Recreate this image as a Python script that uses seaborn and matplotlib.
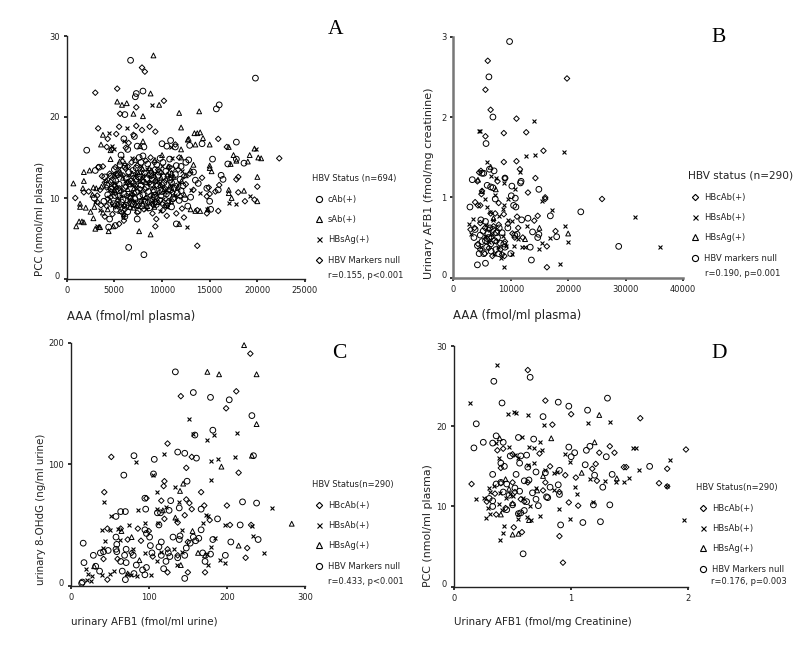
import matplotlib
matplotlib.use("Agg")
import matplotlib.pyplot as plt
from matplotlib.lines import Line2D
from matplotlib.transforms import ScaledTranslation
import pandas as pd
import seaborn as sns

# ---------- Panel A: AAA vs PCC ----------
a_cab = [(6700,27),(19800,24.8),(8000,23.2),(7300,22.9),(7200,22.5),(16000,21.5),(15700,21),(6100,20.3),(2100,15.9),(6500,3.9),(8100,3),(17800,16.9),(14200,16.7),(10900,17.1),(15300,14.8),(18600,14.3),(16900,14.2),(12900,16.5),(16200,12.8),(16400,12.3),(13000,10.1),(15000,9.6),(15100,8.6),(7100,17.6),(6000,17.3),(7400,16.4),(8100,16.3),(10000,16.7),(10500,16.4),(11400,16.3),(6400,16),(8000,15.2),(7600,15),(5700,15.3),(9800,14.9),(10800,14.8),(12800,14.7),(17800,14.8),(11500,14),(13300,13.2),(3400,13.8),(4000,12.6),(4800,12.2),(5500,11.7),(6100,11.3),(6800,12.1),(7300,10.7),(7800,11.6),(8400,12.4),(9100,11),(9600,12.8),(10200,11.9),(10700,10.3),(11300,11.2),(11900,12.3),(12400,9.9),(13800,11.8),(14700,11.2),(15900,11),(4300,10.4),(4900,9.3),(5200,8.6),(5900,9.8),(6400,8.3),(7000,9.2),(7500,8.4),(8200,9.6),(8700,8.8),(9400,9.2),(9900,10.3),(10600,9.4),(11000,8.9),(11800,9.7),(12700,9),(4500,7.4),(6100,7.7),(7400,7.4),(11500,6.8),(4400,6.4),(5100,6.6),(2900,10),(3000,13.4),(5000,13.5),(5600,14.1),(6500,13.2),(7300,13.7),(8500,14.2),(9300,13.5),(10400,13.3),(11000,13.6),(12000,13.9),(12500,14.4),(6000,10.5),(7000,11.8),(8000,10.4),(9000,12.2),(10000,10.8),(11000,11.9),(12000,10.9),(13500,12.2)]
a_cab_core = [(4200,11.6),(4650,12.7),(5050,10.3),(5400,12.9),(5750,9.5),(6250,12.4),(6600,10.1),(6950,13.4),(7150,9.9),(7550,12.6),(7900,9),(8150,13.1),(8600,10.8),(8850,11.7),(9200,10.1),(9550,11.5),(9750,9.7),(10150,12.6),(10450,10.5),(10850,12.2),(11150,9.9),(11600,10.6),(6250,9.1),(7650,10.2),(5450,10.9),(4700,11.1),(8350,11.3),(9700,13.2),(10900,11),(6800,9.3),(7250,12.3),(8800,13),(5150,12.1),(11400,12.9),(12200,11.5),(3900,9.6),(6100,13.9),(9450,14.1),(10100,14.4),(7800,14.4)]
a_sab = [(9100,27.6),(8800,22.9),(5300,21.9),(5800,21.5),(6300,21.7),(9700,21.5),(7000,20.4),(8000,20.1),(11800,20.5),(13900,20.7),(12000,18.7),(3800,17.8),(13400,18),(13700,18),(14000,18.1),(12800,17.3),(12700,17.2),(14300,17.4),(15000,16.6),(17000,16.3),(19700,16.1),(13500,16.6),(3600,16.6),(12000,16),(7700,16.4),(8000,17),(4600,15.9),(17500,15.3),(19200,15.3),(20100,15),(20400,14.9),(17800,14.6),(19000,14.5),(17200,14.2),(13300,14.1),(15000,14),(15000,13.7),(15200,13.3),(1800,13.2),(2400,13.4),(1800,12.1),(20000,12.6),(700,11.8),(1700,11.2),(2800,11.3),(3100,11.2),(2700,10.4),(1000,6.5),(1300,7.1),(1600,7.1),(1800,7),(3000,6.2),(3400,6.4),(3500,6.4),(4400,5.9),(7600,5.9),(8800,5.5),(4900,6.5),(1400,9.3),(1400,8.9),(2000,8.8),(2500,8.3),(2800,7.5),(2900,8.9),(3800,8.2),(4300,8.6),(17000,11),(17000,10.6),(17300,10),(18600,10.9),(20000,9.6),(14800,8.6),(14000,8.4),(13500,8.4),(13000,8.6),(11800,6.8),(6000,8),(5600,8.4),(7000,8.8),(8000,9.3),(9200,8.9),(10300,9.1),(5000,11),(5900,12.5),(6900,13),(7700,12.1),(8900,13.4),(10000,15.3),(11000,13.1),(12000,15),(12500,12.8),(13000,13.4),(9900,12.5),(10800,11.4),(8300,10.1),(6500,9.4),(4600,14.8),(6100,14.3),(7200,14.7),(5000,12.9),(6400,11.1)]
a_sab_core = [(4150,12.2),(4550,9.7),(5250,11.4),(5650,13.1),(6050,9.2),(6350,12),(6750,10.6),(7050,11.2),(7450,13.2),(7850,9.8),(8250,12),(8650,13.7),(9050,10.4),(9350,12.4),(9650,9.5),(10250,11.1),(10550,12.9),(10950,9.6),(11250,12.6),(11650,11.3),(12050,12.1),(5350,9.3),(6650,8.9),(8450,9),(7350,9.1),(9850,11.6),(4850,10.7),(10650,13.9),(5550,14.5),(12350,10.4),(3650,11.4),(7950,13.6),(9250,14.7)]
a_hbsag = [(4400,18),(8900,21.5),(6300,18.7),(5000,16.1),(4800,16.4),(5800,15),(12600,6.4),(6000,17),(19900,16),(17000,9.4),(17800,9.2),(19200,10.2),(8000,12.5),(9100,9.8),(10900,16.3),(13000,11),(14000,10.6),(14700,8.6),(3000,9.5),(3500,8.5),(4400,11),(5300,10),(6400,12.8),(7100,9.6),(7800,14),(8500,11.8),(9200,13),(10100,9.9),(10700,12.8),(11400,10.4),(12100,13.3),(3200,6.6),(5500,13.6),(6800,15),(8300,8.7),(9800,8.4),(11000,15),(7300,11.3),(9400,10.6),(4700,9.1),(5900,7.8)]
a_hbsag_core = [(4950,11.9),(5650,10.2),(6150,12.1),(6850,11.6),(7650,10.9),(8050,12.9),(8750,9.4),(9550,12.1),(9950,13.9),(10350,10.7),(10950,11.6),(11750,11.8),(6550,9.9),(7250,13),(8450,13.6),(5150,8.9),(9050,11.2),(10550,8.9)]
a_null = [(3000,23),(5300,23.5),(7900,26.1),(8200,25.6),(7300,21.2),(10200,22),(5600,20.4),(3300,18.6),(5500,18.8),(7300,18.9),(7900,18.4),(8700,18.8),(9300,18.2),(7000,17.8),(4300,17.3),(5200,17.9),(6500,16.8),(15900,17.3),(16800,16.3),(11400,16.6),(4200,16.3),(4700,16),(6200,16.2),(3800,13.9),(3300,13.8),(11800,15),(14900,11.3),(17800,12.3),(18000,12.6),(18000,10.7),(20000,11.4),(22300,14.9),(19700,9.8),(18700,9.6),(15900,8.4),(14700,8.1),(13700,4.1),(9300,6.5),(9400,7.4),(10500,7.8),(900,10),(2300,10.8),(1800,10.7),(3200,9.5),(3600,9.1),(4200,9),(5000,9.1),(4000,7.7),(5500,6.8),(6000,7.2),(14200,12.5),(15600,10.8),(15000,10.5),(14700,10.2),(16000,11.6),(3200,10.3),(4200,11.3),(4600,12),(5000,11.5),(5300,12.8),(5700,10.8),(6200,13.6),(6700,10),(7000,12.5),(7500,9),(7800,13.2),(8200,11.1),(8500,9.5),(8900,12.7),(9200,14.4),(9500,10),(9900,13.1),(10300,11.2),(10700,9.6),(11000,12.4),(11300,10),(11700,13.5),(12100,8.7),(12500,11.7),(12900,13),(13300,11),(13700,8.5),(6000,9),(7400,8.2),(8800,10.3),(9000,8.1),(10100,8.5),(5400,9.7),(5100,13.8),(8300,14.6),(8800,15),(7100,10.6),(6500,12),(4800,8),(4500,13),(3700,12.7),(6800,14.4),(9400,11.6),(11500,8.1),(12300,7.6),(10800,13.8),(5800,8.2),(4600,10.1),(6200,11.4),(7600,12.4),(9100,9.1)]
a_null_core = [(4300,9.9),(4750,11.3),(5100,10.6),(5500,11.2),(5900,12.8),(6300,10.3),(6600,11.7),(7000,9.5),(7200,11.5),(7700,11.1),(8000,12),(8400,10),(8700,11.9),(9000,9.8),(9300,12.1),(9700,10.7),(10000,11.7),(10400,12.2),(10700,11),(11100,10.7),(11500,11.5),(11900,10.2),(5600,9.1),(6900,10.4),(8100,8.6),(8600,12.8),(9600,13.5),(10500,9),(5200,13),(6400,13.9),(7400,14),(7700,9.6),(9300,9.5),(10000,9.3),(12300,12.7),(4000,11.9),(3500,11),(6100,8.6)]

# ---------- Panel B: AAA vs urinary AFB1 ----------
b_null = [(9800,2.94),(6200,2.5),(6900,2.0),(5700,1.67),(14900,1.1),(10200,1.14),(3300,1.22),(5900,1.15),(6500,1.13),(6900,1.12),(6300,1.35),(5000,1.3),(5300,1.3),(7100,1.33),(11800,1.2),(11700,1.18),(10100,1.02),(10800,0.99),(9000,1.24),(7300,0.98),(2900,0.88),(22200,0.82),(16900,0.77),(13000,0.74),(28800,0.39),(18000,0.51),(14900,0.54),(14700,0.5),(13600,0.22),(13400,0.38),(4200,0.16),(5600,0.18),(13800,0.57),(10500,0.9),(10900,0.88),(11900,0.72),(5600,0.7),(3600,0.5),(4200,0.4),(4500,0.3),(5000,0.45),(5300,0.3),(5800,0.38),(6000,0.55),(6500,0.42),(6900,0.6),(7400,0.35),(7700,0.5),(8200,0.43),(8500,0.56),(9000,0.38),(9500,0.62),(10000,0.3),(10700,0.53),(4800,0.72),(3800,0.6),(11100,0.54),(4700,0.53),(6600,0.33),(7900,0.3),(5200,0.58),(6200,0.5),(7200,0.46),(8000,0.62),(8800,0.42),(6400,0.62),(7500,0.56),(5600,0.46)]
b_hbcab = [(6000,2.7),(19800,2.48),(5600,2.34),(6500,2.09),(11000,1.98),(8800,1.8),(12700,1.81),(5600,1.76),(15700,1.58),(8800,1.44),(11000,1.45),(11600,1.35),(14300,1.24),(9000,1.24),(7700,1.2),(4200,1.2),(4800,1.33),(4500,1.31),(4900,1.04),(5000,1.08),(13000,1.06),(16000,1),(16000,0.98),(25900,0.98),(7900,0.93),(3800,0.94),(4300,0.9),(4700,0.9),(8800,0.79),(11100,0.76),(14700,0.77),(6500,0.8),(7300,0.8),(14100,0.71),(17800,0.58),(16300,0.39),(16300,0.13),(8900,0.27),(3000,0.6),(3700,0.62),(4700,0.68),(5500,0.62),(6200,0.6),(7000,0.64),(7900,0.66),(9500,0.67),(10300,0.55),(10700,0.5),(11300,0.62),(12100,0.5),(4300,0.42),(4700,0.35),(5500,0.3),(6200,0.37),(6800,0.27),(7500,0.45),(8200,0.35),(9000,0.45),(6600,0.5),(7700,0.58),(5900,0.48),(8500,0.29)]
b_hbsab = [(4500,1.83),(4700,1.83),(14100,1.95),(19200,1.57),(12700,1.52),(14300,1.53),(5800,1.44),(11700,1.32),(6500,1.27),(7500,1.24),(8800,1.18),(10800,1.1),(7300,1.03),(5500,0.98),(9500,0.98),(15400,0.95),(8900,0.9),(8700,0.86),(5800,0.88),(17200,0.84),(31600,0.76),(36000,0.38),(19400,0.64),(20000,0.45),(16800,0.5),(15400,0.43),(14900,0.36),(12900,0.64),(18500,0.17),(8900,0.13),(2700,0.67),(3500,0.73),(3000,0.55),(6400,0.82),(7000,0.72),(8000,0.77),(10200,0.7),(9600,0.72),(4900,0.38),(5500,0.52),(6200,0.45),(7100,0.3),(7700,0.38),(8300,0.25),(8700,0.52),(9200,0.4),(10200,0.3),(10600,0.4),(11200,0.48),(12000,0.38),(12500,0.38),(6800,0.55),(5700,0.66)]
b_hbsag = [(6500,1.38),(7400,1.1),(5000,1.08),(20000,0.55),(15000,0.62),(12500,0.48),(7000,0.74),(4300,1.22)]

# ---------- Panel C: urinary AFB1 vs 8-OHdG ----------
c_null = [(134,176),(157,159),(179,155),(203,153),(232,140),(182,128),(159,124),(81,107),(107,104),(137,110),(146,109),(161,105),(234,107),(68,91),(106,92),(149,86),(220,69),(238,68),(128,70),(96,63),(64,61),(70,61),(58,57),(95,72),(111,60),(115,60),(126,62),(139,64),(167,63),(188,55),(182,38),(217,50),(167,46),(205,36),(240,38),(198,25),(146,6),(70,5),(14,2),(15,3),(16,35),(17,19),(29,25),(32,16),(37,12),(38,27),(42,28),(48,29),(58,30),(59,34),(59,28),(58,40),(64,20),(66,12),(69,25),(71,30),(71,19),(80,25),(81,10),(84,17),(92,13),(95,9),(97,15),(95,46),(97,43),(101,40),(102,33),(104,27),(113,32),(116,36),(116,25),(119,14),(122,20),(125,27),(127,24),(131,40),(137,23),(139,38),(140,41),(146,25),(148,31),(153,35),(157,40),(160,37),(164,39),(169,27),(172,20),(179,26),(113,50)]
c_hbcab = [(230,191),(212,160),(141,156),(199,146),(124,117),(52,106),(155,106),(148,97),(215,93),(120,86),(119,82),(43,77),(167,77),(148,71),(171,66),(200,66),(152,68),(120,55),(178,54),(204,50),(231,50),(226,31),(224,23),(172,11),(150,11),(124,11),(47,5),(42,22),(47,47),(64,47),(73,38),(86,47),(90,37),(97,72),(116,70),(137,52),(146,58),(155,63),(124,30),(137,25),(150,36),(100,45),(105,24),(78,27),(60,22)]
c_hbsab = [(151,137),(156,125),(184,124),(175,120),(213,126),(84,102),(120,108),(105,91),(180,103),(189,104),(210,106),(180,87),(133,81),(110,77),(42,69),(139,69),(258,64),(51,57),(86,62),(111,63),(173,58),(176,57),(170,52),(122,65),(95,52),(112,52),(75,50),(60,47),(40,46),(44,37),(50,46),(232,49),(198,50),(233,41),(248,27),(191,21),(198,19),(180,32),(185,39),(143,46),(132,30),(143,28),(136,17),(176,17),(174,26),(85,8),(103,9),(26,4),(20,14),(22,10),(27,8),(40,9),(50,10),(55,12),(72,10),(77,9),(41,31),(63,38),(80,30),(95,27),(110,20),(115,28),(135,54),(21,5)]
c_hbsag = [(222,198),(175,176),(190,174),(238,174),(238,133),(232,107),(193,98),(144,84),(140,78),(283,51),(134,56),(118,62),(156,45),(215,33),(163,27),(141,17),(88,21),(65,45),(78,40),(73,10),(30,16),(172,25)]

# ---------- Panel D: urinary AFB1 vs PCC ----------
d_null = [(0.34,25.6),(0.65,26.1),(0.41,22.9),(0.89,23),(0.98,22.5),(1.14,22),(1.31,23.5),(0.76,21.2),(0.19,20.3),(0.25,18),(0.17,17.3),(0.36,18.8),(0.33,17.9),(0.42,18),(0.55,18.6),(0.68,18.4),(0.98,17.4),(1.13,17),(1.16,17.5),(1.0,16.2),(1.03,16.7),(1.3,16.2),(1.67,15),(1.12,15.2),(1.35,14),(1.27,12.4),(1.2,13.9),(1.33,10.2),(1.19,10.2),(1.25,8.1),(1.1,8),(0.91,7.7),(0.59,4.1),(0.4,15.4),(0.43,15),(0.48,16.3),(0.57,16.3),(0.62,16.4),(0.56,15.4),(0.63,14.9),(0.9,14.5),(0.89,12.7),(0.9,11.5),(0.78,14.2),(0.7,14.3),(0.53,14),(0.33,14),(0.3,11),(0.33,10.7),(0.36,12.8),(0.4,13),(0.45,12.8),(0.42,11.8),(0.47,11.4),(0.52,12.3),(0.56,11.9),(0.6,13.2),(0.64,13.3),(0.67,11.7),(0.7,10.9),(0.72,10.1),(0.79,11.2),(0.8,11.1),(0.82,12.4),(0.5,10.2),(0.45,9.6),(0.55,9.1),(0.57,9.2),(0.6,9.5),(0.62,10.6),(0.33,10)]
d_hbcab = [(0.63,27),(0.78,23.2),(1.0,21.5),(1.59,21),(0.84,20.2),(1.98,17.1),(1.33,17.5),(1.37,16.7),(1.24,16.7),(0.37,17),(0.42,17.2),(0.5,16.5),(1.21,15.3),(1.18,14.7),(1.45,14.9),(1.47,14.9),(1.82,14.7),(0.95,13.9),(1.04,13.6),(1.22,13.2),(1.75,12.9),(1.82,12.5),(0.15,12.8),(0.28,10.6),(0.36,9),(0.4,12.9),(0.44,9.8),(0.52,11.8),(0.57,10.9),(0.6,10.6),(0.63,13),(0.76,12),(0.78,13),(0.82,15),(0.9,11.8),(0.98,10.5),(1.06,10.1),(0.51,7.4),(0.58,6.8),(0.9,6.3),(0.93,3),(0.5,13),(0.73,16.6),(0.4,14.8),(0.35,11.6)]
d_hbsab = [(0.37,27.6),(0.14,22.9),(0.46,21.5),(0.51,21.8),(0.53,21.7),(0.63,21.4),(0.77,20.1),(1.14,20.4),(1.33,20.5),(0.58,18.7),(0.73,18),(0.36,17.9),(0.47,17.4),(0.64,17.4),(0.68,17.3),(0.75,17),(0.95,16.6),(0.99,15.6),(1.53,17.3),(1.55,17.3),(1.84,15.8),(1.58,14.5),(1.49,13.5),(1.45,13.1),(1.38,13.1),(1.29,13.2),(1.16,13.4),(1.03,12.4),(1.05,11.6),(1.19,10.5),(0.9,9.7),(0.99,8.5),(1.96,8.3),(1.82,12.5),(0.27,8.6),(0.31,9),(0.43,7.6),(0.42,6.7),(0.39,5.8),(0.66,8.3),(0.62,8.7),(0.73,8.8),(0.55,8.5),(0.19,10.9),(0.26,11),(0.29,9.8),(0.38,16),(0.55,16.1),(0.52,16.4),(0.63,15.2),(0.68,15.4),(0.78,14.5),(0.85,14.2),(0.88,14.3),(0.85,12),(0.7,12.3),(0.65,10.1),(0.59,11.1),(0.5,11.3),(0.44,11),(0.38,10.3),(0.34,12.5),(0.3,12.3),(0.31,11.8),(0.39,11.7),(0.41,9.5),(0.48,11.6),(0.55,9)]
d_hbsag = [(1.24,21.4),(0.83,18.5),(0.39,18.5),(1.2,18),(1.09,14.2),(1.39,13.5),(0.76,13.8),(0.71,12),(0.5,10.4),(0.5,6.5),(0.55,6.6),(0.64,8.3),(0.4,9),(0.44,13.4),(0.47,12.2)]

W, H = 800, 654
sns.set_theme(style="white", rc={"font.family": ["DejaVu Sans"]})
fig = plt.figure(figsize=(W / 100, H / 100), dpi=100, facecolor="white")


def fx(x):
    return x / W


def fy(y):
    return 1 - y / H


INK = "#222222"
MARK = {"o": 17, "^": 12, "x": 8, "D": 8}


def panel(box, xlim, ylim, xticks, yticks, series, xlabel, ylabel, xlab_xy, ylab_xy, xsize, ysize,
          letter, letter_xy, title, title_size, r_text, r_xy, leg_xy, spine="#222222", spine_w=1.0):
    left, right, top, bottom = box
    ax = fig.add_axes([fx(left), fy(bottom), fx(right - left), (bottom - top) / H])
    for label, marker, pts in series:
        frame = pd.DataFrame(pts, columns=["x", "y"])
        if marker == "x":
            sns.scatterplot(data=frame, x="x", y="y", marker="x", s=MARK[marker], color="black",
                            linewidth=0.8, ax=ax, clip_on=False, legend=False)
        else:
            sns.scatterplot(data=frame, x="x", y="y", marker=marker, s=MARK[marker], facecolors="none",
                            edgecolor="black", linewidth=0.7, ax=ax, clip_on=False, legend=False)
    ax.set_xlim(*xlim)
    ax.set_ylim(*ylim)
    ax.set_xticks(xticks)
    ax.set_yticks(yticks)
    ax.tick_params(axis="both", length=2, width=1.3, pad=3, labelsize=6, colors=INK, bottom=True, left=True)
    sns.despine(ax=ax)
    for side in ("left", "bottom"):
        ax.spines[side].set_color(spine)
        ax.spines[side].set_linewidth(spine_w)
    zero = ax.get_yticklabels()[0]
    zero.set_transform(zero.get_transform() + ScaledTranslation(0, 3.5 / 100, fig.dpi_scale_trans))

    ax.set_xlabel(xlabel, fontsize=xsize, color=INK, ha="left", va="center")
    ax.xaxis.set_label_coords(fx(xlab_xy[0]), fy(xlab_xy[1]), transform=fig.transFigure)
    ax.set_ylabel(ylabel, fontsize=ysize, color=INK, ha="center", va="center")
    ax.yaxis.set_label_coords(fx(ylab_xy[0]), fy(ylab_xy[1]), transform=fig.transFigure)

    fig.text(fx(letter_xy[0]), fy(letter_xy[1]), letter, family="Liberation Serif", fontsize=15.5,
             color="black", ha="center", va="center")

    handles = [Line2D([], [], linestyle="none", marker=m, markersize=3.6 if m == "x" else (3.2 if m == "D" else 4.4),
                      markerfacecolor="none", markeredgecolor="black", markeredgewidth=0.8,
                      label=lab) for lab, m, _ in series]
    leg = ax.legend(handles=handles, title=title, loc="upper left", frameon=False,
                    bbox_to_anchor=(fx(leg_xy[0]), fy(leg_xy[1])), bbox_transform=fig.transFigure,
                    fontsize=6, title_fontsize=title_size, labelspacing=1.37, handlelength=1.6,
                    handletextpad=0.3, borderpad=0, borderaxespad=0, labelcolor=INK)
    leg._legend_box.align = "left"
    leg._legend_box.sep = 8.3
    leg.get_title().set_color(INK)
    fig.text(fx(r_xy[0]), fy(r_xy[1]), r_text, fontsize=6, color=INK, ha="left", va="center")
    return ax


panel((66.7, 305, 36, 279), (0, 25000), (0, 30), [0, 5000, 10000, 15000, 20000, 25000], [0, 10, 20, 30],
      [("cAb(+)", "o", a_cab + a_cab_core), ("sAb(+)", "^", a_sab + a_sab_core),
       ("HBsAg(+)", "x", a_hbsag + a_hbsag_core), ("HBV Markers null", "D", a_null + a_null_core)],
      "AAA (fmol/ml plasma)", "PCC (nmol/ml plasma)", (67, 316), (40, 219), 8.4, 7.4,
      "A", (336, 30), "HBV Status (n=694)", 6, "r=0.155, p<0.001", (328, 275), (312, 174))

panel((453.3, 683, 36.7, 277.7), (0, 40000), (0, 3), [0, 10000, 20000, 30000, 40000], [0, 1, 2, 3],
      [("HBcAb(+)", "D", b_hbcab), ("HBsAb(+)", "x", b_hbsab), ("HBsAg(+)", "^", b_hbsag), ("HBV markers null", "o", b_null)],
      "AAA (fmol/ml plasma)", "Urinary AFB1 (fmol/mg creatinine)", (453, 315), (429, 183), 8.4, 8.0,
      "B", (719, 37), "HBV status (n=290)", 7.6, "r=0.190, p=0.001", (705, 273), (688, 171),
      spine="#777777", spine_w=1.8)

panel((70.7, 305, 342.7, 585.7), (0, 300), (0, 200), [0, 100, 200, 300], [0, 100, 200],
      [("HBcAb(+)", "D", c_hbcab), ("HBsAb(+)", "x", c_hbsab), ("HBsAg(+)", "^", c_hbsag), ("HBV Markers null", "o", c_null)],
      "urinary AFB1 (fmol/ml urine)", "urinary 8-OHdG (ng/ml urine)", (71, 622), (41, 509), 7.4, 7.4,
      "C", (339, 354), "HBV Status(n=290)", 6, "r=0.433, p<0.001", (328, 582), (312, 480))

panel((454, 688.3, 346, 586.7), (0, 2), (0, 30), [0, 1, 2], [0, 10, 20, 30],
      [("HBcAb(+)", "D", d_hbcab), ("HBsAb(+)", "x", d_hbsab), ("HBsAg(+)", "^", d_hbsag), ("HBV Markers null", "o", d_null)],
      "Urinary AFB1 (fmol/mg Creatinine)", "PCC (nmol/ml plasma)", (454, 622), (428, 526), 7.4, 7.9,
      "D", (719, 354), "HBV Status(n=290)", 6, "r=0.176, p=0.003", (711, 582), (696, 483))

fig.savefig("out.png", dpi=100, facecolor="white")
